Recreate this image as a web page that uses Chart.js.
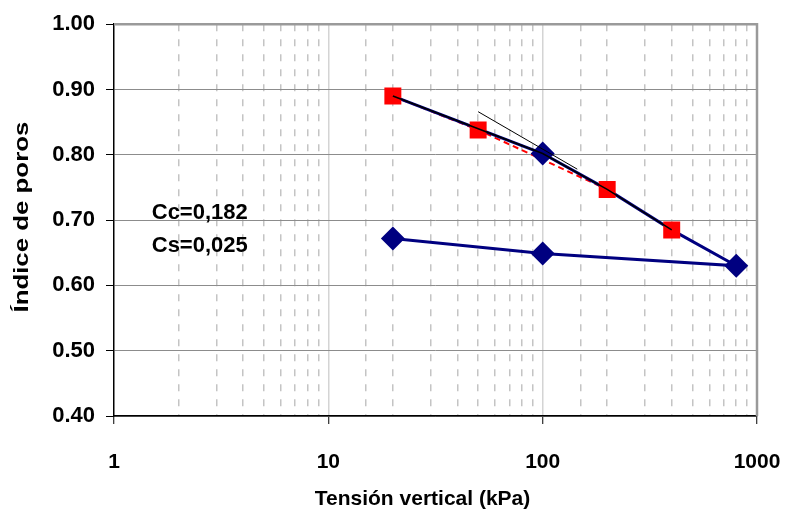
<!DOCTYPE html>
<html>
<head>
<meta charset="utf-8">
<script src="https://cdn.jsdelivr.net/npm/chart.js@4/dist/chart.umd.min.js"></script>
<style>
  html, body { margin: 0; padding: 0; background: #ffffff; }
  #chart { display: block; }
</style>
</head>
<body>
<canvas id="chart" width="786" height="518"></canvas>
<script>
// Curva edométrica: índice de poros frente a tensión vertical
const stressCurve = [20, 100, 200, 400, 800, 100, 20];
const voidCurve = [0.890, 0.802, 0.747, 0.685, 0.630, 0.649, 0.672];

const stressFit = [20, 50, 200, 400];
const voidFit = [0.890, 0.838, 0.747, 0.685];

const stressTangent = [50, 145];
const voidTangent = [0.866, 0.778];

const annotations = ['Cc=0,182', 'Cs=0,025'];
const annotationX = 1.5;
const annotationY = [0.711, 0.660];

const yTicks = [0.4, 0.5, 0.6, 0.7, 0.8, 0.9, 1.0];
const yTitle = 'Índice de poros';
const xTitle = 'Tensión vertical (kPa)';

const FONT = "'Liberation Sans', Arial, sans-serif";

function toPoints(xs, ys) {
    return xs.map((x, i) => ({ x: x, y: ys[i] }));
}

function isDecade(v) {
    const l = Math.log10(v);
    return Math.abs(l - Math.round(l)) < 1e-9;
}

// diamante oculto donde ya hay un cuadrado rojo
function coversFit(i) {
    return stressFit.some((s, k) => s === stressCurve[i] && Math.abs(voidFit[k] - voidCurve[i]) < 0.005);
}

// borde gris arriba y a la derecha, textos Cc / Cs y títulos de ejes
const extrasPlugin = {
    id: 'extras',
    afterDatasetsDraw(chart) {
        const { ctx, chartArea, scales } = chart;
        ctx.save();
        ctx.strokeStyle = '#9a9a9a';
        ctx.lineWidth = 2.5;
        ctx.beginPath();
        ctx.moveTo(chartArea.left, chartArea.top);
        ctx.lineTo(chartArea.right, chartArea.top);
        ctx.lineTo(chartArea.right, chartArea.bottom);
        ctx.stroke();

        ctx.fillStyle = '#000000';
        ctx.font = 'bold 22px ' + FONT;
        ctx.textAlign = 'left';
        ctx.textBaseline = 'middle';
        annotations.forEach((t, i) => {
            ctx.fillText(t, scales.x.getPixelForValue(annotationX), scales.y.getPixelForValue(annotationY[i]));
        });
        ctx.restore();
    },
    afterDraw(chart) {
        const { ctx, chartArea } = chart;
        const midX = (chartArea.left + chartArea.right) / 2;
        const midY = (chartArea.top + chartArea.bottom) / 2;
        ctx.save();
        ctx.fillStyle = '#000000';
        ctx.textAlign = 'center';
        ctx.textBaseline = 'middle';

        // eje X
        ctx.font = 'bold 21px ' + FONT;
        ctx.fillText(xTitle, midX - 13, chart.height - 19);

        // eje Y (estirado como en el original)
        ctx.translate(22, midY - 3);
        ctx.rotate(-Math.PI / 2);
        ctx.scale(1.23, 1);
        ctx.fillText(yTitle, 0, 0);
        ctx.restore();
    }
};

new Chart(document.getElementById('chart'), {
    type: 'scatter',
    data: {
        datasets: [
            {
                data: toPoints(stressFit, voidFit),
                showLine: true,
                borderColor: '#ff0000',
                borderWidth: 2,
                borderDash: [6, 4],
                pointRadius: 0,
                order: 4
            },
            {
                data: toPoints(stressCurve, voidCurve),
                showLine: true,
                borderColor: '#000080',
                backgroundColor: '#000080',
                borderWidth: 3,
                pointStyle: 'rectRot',
                pointRadius: ctx => coversFit(ctx.dataIndex) ? 0 : 12,
                pointBorderWidth: 0,
                order: 3
            },
            {
                data: toPoints(stressFit, voidFit),
                showLine: false,
                pointStyle: 'rect',
                pointRadius: 12,
                pointBorderWidth: 0,
                backgroundColor: '#ff0000',
                borderColor: '#ff0000',
                order: 2
            },
            {
                data: toPoints(stressCurve.slice(0, 4), voidCurve.slice(0, 4)),
                showLine: true,
                borderColor: '#000000',
                borderWidth: 1.5,
                pointRadius: 0,
                order: 1
            },
            {
                data: toPoints(stressTangent, voidTangent),
                showLine: true,
                borderColor: '#000000',
                borderWidth: 1,
                pointRadius: 0,
                order: 1
            }
        ]
    },
    options: {
        responsive: false,
        animation: false,
        events: [],
        layout: { padding: { top: 24, right: 29, left: 0, bottom: 0 } },
        plugins: {
            legend: { display: false },
            tooltip: { enabled: false }
        },
        scales: {
            x: {
                type: 'logarithmic',
                position: 'bottom',
                min: 1,
                max: 1000,
                afterFit(scale) {
                    scale.height = 102;
                    scale.paddingLeft = 0;
                    scale.paddingRight = 0;
                },
                border: { color: '#000000', width: 1.5 },
                grid: {
                    color: ctx => {
                        const v = ctx.tick ? ctx.tick.value : 0;
                        return (v === 10 || v === 100) ? '#d4d4d4' : 'rgba(0,0,0,0)';
                    },
                    lineWidth: 1.5,
                    tickColor: ctx => (ctx.tick && isDecade(ctx.tick.value)) ? '#000000' : 'rgba(0,0,0,0)',
                    tickLength: 8,
                    tickWidth: 1
                },
                ticks: {
                    autoSkip: false,
                    maxRotation: 0,
                    padding: 26,
                    color: '#000000',
                    font: { family: FONT, size: 21, weight: 'bold' },
                    callback: v => isDecade(v) ? String(Math.round(v)) : ''
                },
                title: { display: false }
            },
            x2: {
                type: 'logarithmic',
                position: 'bottom',
                min: 1,
                max: 1000,
                afterFit(scale) {
                    scale.height = 0;
                    scale.paddingLeft = 0;
                    scale.paddingRight = 0;
                },
                border: { display: false, dash: [7, 8] },
                grid: {
                    color: ctx => (ctx.tick && !isDecade(ctx.tick.value)) ? '#c4c4c4' : 'rgba(0,0,0,0)',
                    lineWidth: 1.5,
                    drawTicks: false
                },
                ticks: { display: false, autoSkip: false }
            },
            y: {
                type: 'linear',
                min: 0.4,
                max: 1.0,
                afterFit(scale) { scale.width = 114; },
                afterBuildTicks(scale) { scale.ticks = yTicks.map(v => ({ value: v })); },
                border: { color: '#000000', width: 1.5 },
                grid: {
                    color: '#8c8c8c',
                    lineWidth: 1,
                    tickColor: '#000000',
                    tickLength: 8
                },
                ticks: {
                    padding: 11,
                    color: '#000000',
                    font: { family: FONT, size: 22, weight: 'bold' },
                    callback: v => Number(v).toFixed(2)
                },
                title: { display: false }
            }
        }
    },
    plugins: [extrasPlugin]
});
</script>
</body>
</html>
